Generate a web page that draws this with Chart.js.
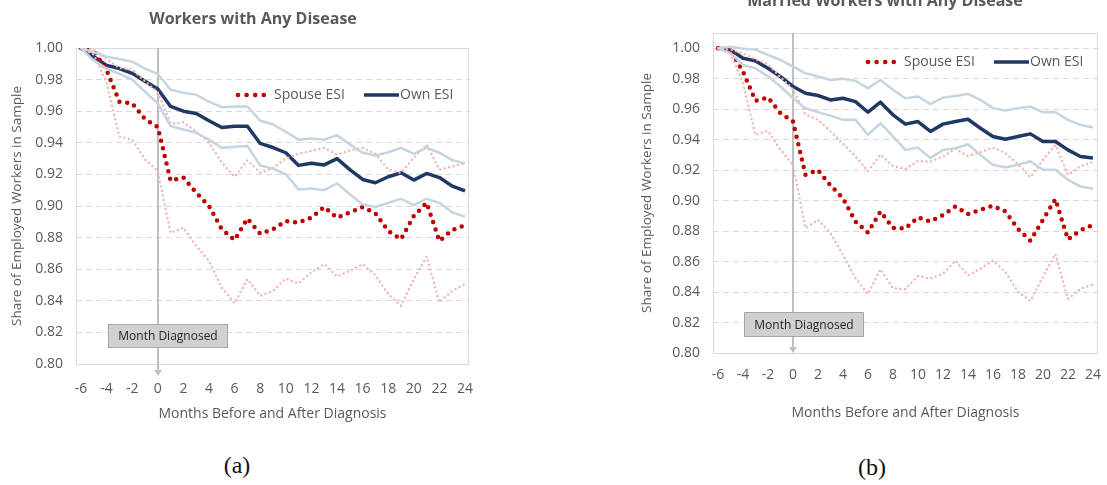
<!DOCTYPE html>
<html>
<head>
<meta charset="utf-8">
<script src="https://cdn.jsdelivr.net/npm/chart.js@4.4.0/dist/chart.umd.min.js"></script>
<style>
  body { margin: 0; background: #fff; width: 1107px; height: 485px; overflow: hidden; position: relative; }
  canvas { position: absolute; }
  #chartA { left: 0; top: 0; }
  #chartB { left: 630px; top: -15px; }
  .cap { position: absolute; font-family: "Liberation Serif", "DejaVu Serif", serif; font-size: 24px; line-height: 28px; color: #111; transform: translateX(-50%); }
</style>
</head>
<body>
<canvas id="chartA" width="506" height="440"></canvas>
<canvas id="chartB" width="477" height="455"></canvas>
<div class="cap" style="left:237px; top:451px;">(a)</div>
<div class="cap" style="left:872px; top:453px;">(b)</div>
<script>
// months relative to diagnosis
const months = [-6, -5, -4, -3, -2, -1, 0, 1, 2, 3, 4, 5, 6, 7, 8, 9, 10, 11, 12, 13, 14, 15, 16, 17, 18, 19, 20, 21, 22, 23, 24];
const xTicks = [-6, -4, -2, 0, 2, 4, 6, 8, 10, 12, 14, 16, 18, 20, 22, 24];
const yTicks = [0.80, 0.82, 0.84, 0.86, 0.88, 0.90, 0.92, 0.94, 0.96, 0.98, 1.00];

// (a) Workers with any disease
const ownA = [1.000, 0.9945, 0.989, 0.987, 0.984, 0.979, 0.974, 0.963, 0.960, 0.9585, 0.954, 0.9497, 0.9505, 0.9505, 0.9396, 0.937,
  0.9337, 0.9257, 0.927, 0.926, 0.930, 0.923, 0.9168, 0.9147, 0.9185, 0.921, 0.9164, 0.9206, 0.918, 0.9126, 0.9095];
const ownHiA = [1.000, 0.9973, 0.9945, 0.993, 0.9913, 0.987, 0.9836, 0.9737, 0.9716, 0.9705, 0.966, 0.9625, 0.963, 0.963, 0.954, 0.9516,
  0.947, 0.942, 0.9427, 0.942, 0.9448, 0.939, 0.9337, 0.932, 0.934, 0.9368, 0.933, 0.9368, 0.9337, 0.929, 0.927];
const ownLoA = [1.000, 0.992, 0.987, 0.9836, 0.980, 0.9724, 0.965, 0.9505, 0.9484, 0.9463, 0.942, 0.9368, 0.9375, 0.938, 0.9257, 0.9236,
  0.920, 0.9105, 0.911, 0.910, 0.9143, 0.9074, 0.901, 0.8994, 0.902, 0.9046, 0.9006, 0.9046, 0.902, 0.896, 0.8933];
const spouseA = [1.000, 0.998, 0.986, 0.966, 0.965, 0.955, 0.950, 0.916, 0.918, 0.9084, 0.900, 0.8853, 0.8785, 0.892, 0.8825, 0.8853,
  0.8905, 0.8895, 0.8926, 0.8994, 0.8926, 0.896, 0.8994, 0.8954, 0.8842, 0.879, 0.8937, 0.902, 0.8779, 0.8848, 0.8878];
const spouseHiA = [1.000, 0.999, 0.993, 0.9874, 0.9863, 0.979, 0.972, 0.952, 0.953, 0.947, 0.940, 0.9274, 0.9185, 0.929, 0.921, 0.924,
  0.930, 0.933, 0.935, 0.9368, 0.9326, 0.935, 0.9368, 0.933, 0.923, 0.921, 0.9305, 0.939, 0.923, 0.925, 0.927];
const spouseLoA = [1.000, 0.9958, 0.978, 0.944, 0.942, 0.9295, 0.922, 0.883, 0.8863, 0.8747, 0.8653, 0.8484, 0.8385, 0.8537, 0.8432, 0.8463,
  0.8541, 0.851, 0.858, 0.8632, 0.8554, 0.859, 0.8632, 0.8562, 0.8442, 0.8368, 0.8537, 0.868, 0.839, 0.8463, 0.8505];

// (b) Married workers with any disease
const ownB = [1.000, 0.9989, 0.9934, 0.9917, 0.9869, 0.9814, 0.9749, 0.9705, 0.969, 0.9661, 0.9672, 0.965, 0.958, 0.9646, 0.9563, 0.9502,
  0.9519, 0.9454, 0.9502, 0.9519, 0.9534, 0.9475, 0.9421, 0.9403, 0.9421, 0.9438, 0.9388, 0.9388, 0.9333, 0.929, 0.9279];
const ownHiB = [1.000, 1.001, 0.9996, 0.999, 0.9956, 0.9923, 0.988, 0.9836, 0.9814, 0.9792, 0.9799, 0.9786, 0.9738, 0.9792, 0.9727, 0.9672,
  0.9683, 0.9633, 0.9676, 0.9687, 0.970, 0.9661, 0.9607, 0.9591, 0.9607, 0.9617, 0.958, 0.958, 0.953, 0.9497, 0.948];
const ownLoB = [1.000, 0.9967, 0.989, 0.9869, 0.9814, 0.9749, 0.9672, 0.9607, 0.958, 0.9558, 0.953, 0.953, 0.9432, 0.9508, 0.9421, 0.9333,
  0.9348, 0.9279, 0.9333, 0.9344, 0.937, 0.930, 0.9235, 0.9218, 0.9235, 0.9257, 0.9202, 0.9202, 0.9137, 0.9093, 0.9078];
const spouseB = [1.000, 0.9985, 0.9847, 0.9655, 0.9677, 0.9574, 0.9519, 0.917, 0.920, 0.910, 0.9016, 0.8863, 0.879, 0.8929, 0.882, 0.8817,
  0.889, 0.8863, 0.8905, 0.8962, 0.8911, 0.894, 0.8966, 0.8929, 0.8815, 0.8737, 0.8874, 0.901, 0.8745, 0.8805, 0.8841];
const spouseHiB = [1.000, 0.999, 0.9967, 0.9928, 0.9895, 0.981, 0.9732, 0.9564, 0.9531, 0.9455, 0.9374, 0.9291, 0.9193, 0.9302, 0.9226, 0.9208,
  0.926, 0.9256, 0.929, 0.934, 0.9293, 0.9318, 0.9348, 0.9312, 0.924, 0.9154, 0.9268, 0.9365, 0.917, 0.9225, 0.9255];
const spouseLoB = [1.000, 0.9967, 0.977, 0.9432, 0.9458, 0.9333, 0.9235, 0.882, 0.8874, 0.8787, 0.8645, 0.8492, 0.8387, 0.855, 0.8425, 0.842,
  0.8505, 0.8488, 0.852, 0.8606, 0.851, 0.8553, 0.8606, 0.8531, 0.8402, 0.8342, 0.85, 0.865, 0.8355, 0.842, 0.845];

const NAVY = '#1f3864';
const BAND_BLUE = '#c6d4e1';
const RED = '#c00000';
const PINK = '#f2b2b2';
const GRID = '#d9d9d9';
const TEXT = '#595959';
const FONT = 'Open Sans';

function pts(vals) {
    return months.map((m, i) => ({ x: m, y: vals[i] }));
}

// panel title, centred where the original sits rather than on the layout box
const panelTitle = {
    id: 'panelTitle',
    afterDraw(chart, args, opts) {
        const { ctx } = chart;
        ctx.save();
        ctx.font = 'bold 16px "' + FONT + '"';
        ctx.fillStyle = TEXT;
        ctx.textAlign = 'center';
        ctx.textBaseline = 'middle';
        ctx.fillText(opts.text, opts.x, opts.y);
        ctx.restore();
    }
};

// light frame round the plot area
const frame = {
    id: 'frame',
    beforeDatasetsDraw(chart) {
        const { ctx, chartArea: a } = chart;
        ctx.save();
        ctx.strokeStyle = GRID;
        ctx.lineWidth = 1;
        ctx.strokeRect(a.left + 0.5, a.top + 0.5, a.right - a.left - 1, a.bottom - a.top);
        ctx.restore();
    }
};

// vertical line at month 0 with its arrow and label box
const diagnosis = {
    id: 'diagnosis',
    beforeDatasetsDraw(chart, args, opts) {
        const { ctx, chartArea: a } = chart;
        const x = Math.round(chart.scales.x.getPixelForValue(0));
        const end = a.bottom + opts.arrowBelow;
        ctx.save();
        ctx.strokeStyle = '#bfbfbf';
        ctx.lineWidth = 2;
        ctx.beginPath();
        ctx.moveTo(x, a.top);
        ctx.lineTo(x, end - 5);
        ctx.stroke();
        ctx.fillStyle = '#bfbfbf';
        ctx.beginPath();
        ctx.moveTo(x - 4, end - 6);
        ctx.lineTo(x + 4, end - 6);
        ctx.lineTo(x, end);
        ctx.closePath();
        ctx.fill();
        ctx.restore();
    },
    afterDatasetsDraw(chart, args, opts) {
        const { ctx } = chart;
        const b = opts.box;
        ctx.save();
        ctx.fillStyle = '#d0d0d0';
        ctx.fillRect(b.x, b.y, b.w, b.h);
        ctx.strokeStyle = '#a6a6a6';
        ctx.lineWidth = 1;
        ctx.strokeRect(b.x + 0.5, b.y + 0.5, b.w - 1, b.h - 1);
        ctx.fillStyle = '#262626';
        ctx.font = '12px "' + FONT + '"';
        ctx.textAlign = 'center';
        ctx.textBaseline = 'middle';
        ctx.fillText('Month Diagnosed', b.x + b.w / 2, b.y + b.h / 2 + 1);
        ctx.restore();
    }
};

// legend drawn inside the plot, only the two main series
const innerLegend = {
    id: 'innerLegend',
    afterDraw(chart, args, opts) {
        const { ctx } = chart;
        const y = opts.y;
        ctx.save();
        ctx.fillStyle = RED;
        for (let i = 0; i < 4; i++) {
            ctx.beginPath();
            ctx.arc(opts.x + i * 8.6, y, 2.3, 0, Math.PI * 2);
            ctx.fill();
        }
        ctx.font = '14px "' + FONT + '"';
        ctx.fillStyle = TEXT;
        ctx.textBaseline = 'middle';
        ctx.fillText('Spouse ESI', opts.x + 36, y);
        ctx.strokeStyle = NAVY;
        ctx.lineWidth = 3.5;
        ctx.beginPath();
        ctx.moveTo(opts.x + 126, y);
        ctx.lineTo(opts.x + 161, y);
        ctx.stroke();
        ctx.fillText('Own ESI', opts.x + 162, y);
        ctx.restore();
    }
};

function makeChart(id, p) {
    const ctx = document.getElementById(id).getContext('2d');
    const band = (vals, color) => ({
        data: pts(vals), borderColor: color, borderWidth: 2.5, pointRadius: 0, fill: false
    });
    const dots = (vals, color, width, gap) => ({
        data: pts(vals), borderColor: color, borderWidth: width, borderDash: [0, gap],
        borderCapStyle: 'round', pointRadius: 0, fill: false
    });
    return new Chart(ctx, {
        type: 'line',
        data: {
            datasets: [
                Object.assign(band(p.ownHi, BAND_BLUE), { label: 'Own ESI upper' }),
                Object.assign(band(p.ownLo, BAND_BLUE), { label: 'Own ESI lower' }),
                Object.assign(dots(p.spouseHi, PINK, 2.4, 4.6), { label: 'Spouse ESI upper' }),
                Object.assign(dots(p.spouseLo, PINK, 2.4, 4.6), { label: 'Spouse ESI lower' }),
                Object.assign(dots(p.spouse, RED, 4.5, 7.8), { label: 'Spouse ESI' }),
                {
                    label: 'Own ESI', data: pts(p.own), borderColor: NAVY, borderWidth: 3.5,
                    borderJoinStyle: 'round', pointRadius: 0, fill: false
                }
            ]
        },
        options: {
            responsive: false,
            animation: false,
            devicePixelRatio: 1,
            layout: { padding: { left: 0, right: p.padRight, top: 48, bottom: 0 } },
            plugins: {
                legend: { display: false },
                tooltip: { enabled: false },
                title: { display: false },
                panelTitle: { text: p.title, x: p.titleX, y: p.titleY },
                diagnosis: { arrowBelow: p.arrowBelow, box: p.box },
                innerLegend: { x: p.legendX, y: p.legendY }
            },
            scales: {
                x: {
                    type: 'linear',
                    min: p.xMin,
                    max: p.xMax,
                    afterBuildTicks: s => { s.ticks = xTicks.map(v => ({ value: v })); },
                    afterFit: s => { s.height = p.xHeight; },
                    grid: { display: false },
                    border: { display: false },
                    ticks: {
                        color: TEXT, font: { family: FONT, size: 14 }, padding: p.xTickPad,
                        maxRotation: 0, autoSkip: false
                    },
                    title: {
                        display: true, text: 'Months Before and After Diagnosis', color: TEXT,
                        font: { family: FONT, size: 14 }, padding: { top: 0, bottom: p.xTitlePad }
                    }
                },
                y: {
                    min: 0.8,
                    max: p.yMax,
                    afterBuildTicks: s => { s.ticks = yTicks.map(v => ({ value: v })); },
                    afterFit: s => { s.width = p.yWidth; },
                    grid: { color: GRID, lineWidth: 1, drawTicks: false },
                    border: { display: false, dash: [6, 4] },
                    ticks: {
                        color: TEXT, font: { family: FONT, size: 14 }, padding: 13,
                        callback: v => v.toFixed(2)
                    },
                    title: {
                        display: true, text: 'Share of Employed Workers in Sample', color: TEXT,
                        font: { family: FONT, size: 13.5 }, padding: { top: 9, bottom: 0 }
                    }
                }
            }
        },
        plugins: [frame, diagnosis, innerLegend, panelTitle]
    });
}

makeChart('chartA', {
    title: 'Workers with Any Disease', titleX: 253, titleY: 19,
    own: ownA, ownHi: ownHiA, ownLo: ownLoA,
    spouse: spouseA, spouseHi: spouseHiA, spouseLo: spouseLoA,
    xMin: -6.39, xMax: 24.31, yMax: 1.00,
    padRight: 37, yWidth: 76, xHeight: 76, xTickPad: 9, xTitlePad: 18,
    arrowBelow: 12,
    box: { x: 108, y: 324, w: 120, h: 24 },
    legendX: 238, legendY: 95
});

makeChart('chartB', {
    title: 'Married Workers with Any Disease', titleX: 255, titleY: 16,
    own: ownB, ownHi: ownHiB, ownLo: ownLoB,
    spouse: spouseB, spouseHi: spouseHiB, spouseLo: spouseLoB,
    xMin: -6.4, xMax: 24.4, yMax: 1.01,
    padRight: 7, yWidth: 83, xHeight: 87, xTickPad: 6, xTitlePad: 19,
    arrowBelow: 0,
    box: { x: 114, y: 327, w: 120, h: 25 },
    legendX: 238, legendY: 77
});
</script>
</body>
</html>
